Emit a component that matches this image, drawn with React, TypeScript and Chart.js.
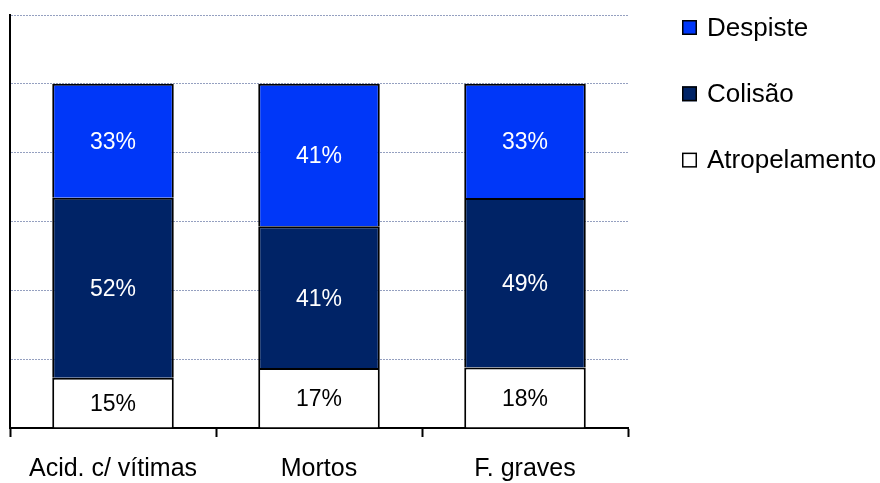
import React, { useEffect, useRef } from "react";
import { Chart, registerables } from "chart.js";

Chart.register(...registerables);

const categories = ["Acid. c/ vítimas", "Mortos", "F. graves"];
const atropelamento = [14.6, 17.4, 17.6];
const colisao = [52.3, 41.2, 49.2];
const despiste = [33.1, 41.4, 33.2];
const seriesNames = ["Atropelamento", "Colisão", "Despiste"];
const yTicksMax = 120;
const yTickStep = 20;

const FONT = '"Liberation Sans", Arial, sans-serif';

const labelPlugin = {
  id: "segmentLabels",
  afterDatasetsDraw(chart: any) {
    const ctx = chart.ctx;
    ctx.save();
    ctx.font = `23px ${FONT}`;
    ctx.textAlign = "center";
    ctx.textBaseline = "middle";
    chart.data.datasets.forEach((ds: any, di: number) => {
      const meta = chart.getDatasetMeta(di);
      meta.data.forEach((el: any, i: number) => {
        const v = ds.data[i];
        const cy = (el.y + el.base) / 2;
        ctx.fillStyle = ds.labelColor;
        ctx.fillText(`${Math.round(v)}%`, el.x, cy + 2);
      });
    });
    ctx.restore();
  },
};

const legendPlugin = {
  id: "sideLegend",
  afterDraw(chart: any) {
    const ctx = chart.ctx;
    const items = [...chart.data.datasets].reverse();
    ctx.save();
    ctx.font = `26px ${FONT}`;
    ctx.textBaseline = "middle";
    ctx.textAlign = "left";
    const x0 = 682;
    const y0 = 27.5;
    const gap = 66.3;
    const box = 15;
    items.forEach((ds: any, i: number) => {
      const cy = y0 + i * gap;
      ctx.fillStyle = ds.backgroundColor;
      ctx.fillRect(x0, cy - box / 2, box, box);
      ctx.lineWidth = 1.5;
      ctx.strokeStyle = "#000";
      ctx.strokeRect(x0 + 0.75, cy - box / 2 + 0.75, box - 1.5, box - 1.5);
      ctx.fillStyle = "#000";
      ctx.fillText(ds.label, 707, cy + 1);
    });
    ctx.restore();
  },
};

export default function App() {
  const ref = useRef<HTMLCanvasElement | null>(null);
  useEffect(() => {
    if (!ref.current) return;
    const common = {
      borderColor: "#000",
      borderWidth: 2,
      borderSkipped: "start",
      categoryPercentage: 1,
      barPercentage: 0.59,
    };
    const chart = new Chart(ref.current, {
      type: "bar",
      data: {
        labels: categories,
        datasets: [
          { ...common, label: seriesNames[0], data: atropelamento, backgroundColor: "#FFFFFF", labelColor: "#000000" } as any,
          { ...common, label: seriesNames[1], data: colisao, backgroundColor: "#002366", labelColor: "#FFFFFF" } as any,
          { ...common, label: seriesNames[2], data: despiste, backgroundColor: "#0037F8", labelColor: "#FFFFFF" } as any,
        ],
      },
      options: {
        animation: false,
        responsive: true,
        maintainAspectRatio: false,
        layout: { padding: { left: 10, top: 15, right: 252, bottom: 0 } },
        plugins: {
          legend: { display: false },
          tooltip: { enabled: false },
        },
        scales: {
          x: {
            stacked: true,
            afterFit: (scale: any) => {
              scale.height = 55;
            },
            grid: {
              drawOnChartArea: false,
              drawTicks: true,
              tickLength: 9,
              tickColor: "#000",
              tickWidth: 2,
              offset: true,
            },
            border: { display: true, color: "#000", width: 2 },
            ticks: {
              color: "#000",
              padding: 17,
              font: { family: FONT, size: 25 },
              maxRotation: 0,
            },
          },
          y: {
            stacked: true,
            min: 0,
            max: yTicksMax,
            ticks: { display: false, stepSize: yTickStep },
            grid: { color: "#95a0c0", lineWidth: 1, drawTicks: false },
            border: { display: true, color: "#000", width: 2, dash: [2, 1] },
          },
        },
      },
      plugins: [labelPlugin, legendPlugin],
    });
    return () => chart.destroy();
  }, []);
  return (
    <div style={{ position: "fixed", left: 0, top: 0, width: 880, height: 483, background: "#fff" }}>
      <canvas ref={ref} />
    </div>
  );
}
